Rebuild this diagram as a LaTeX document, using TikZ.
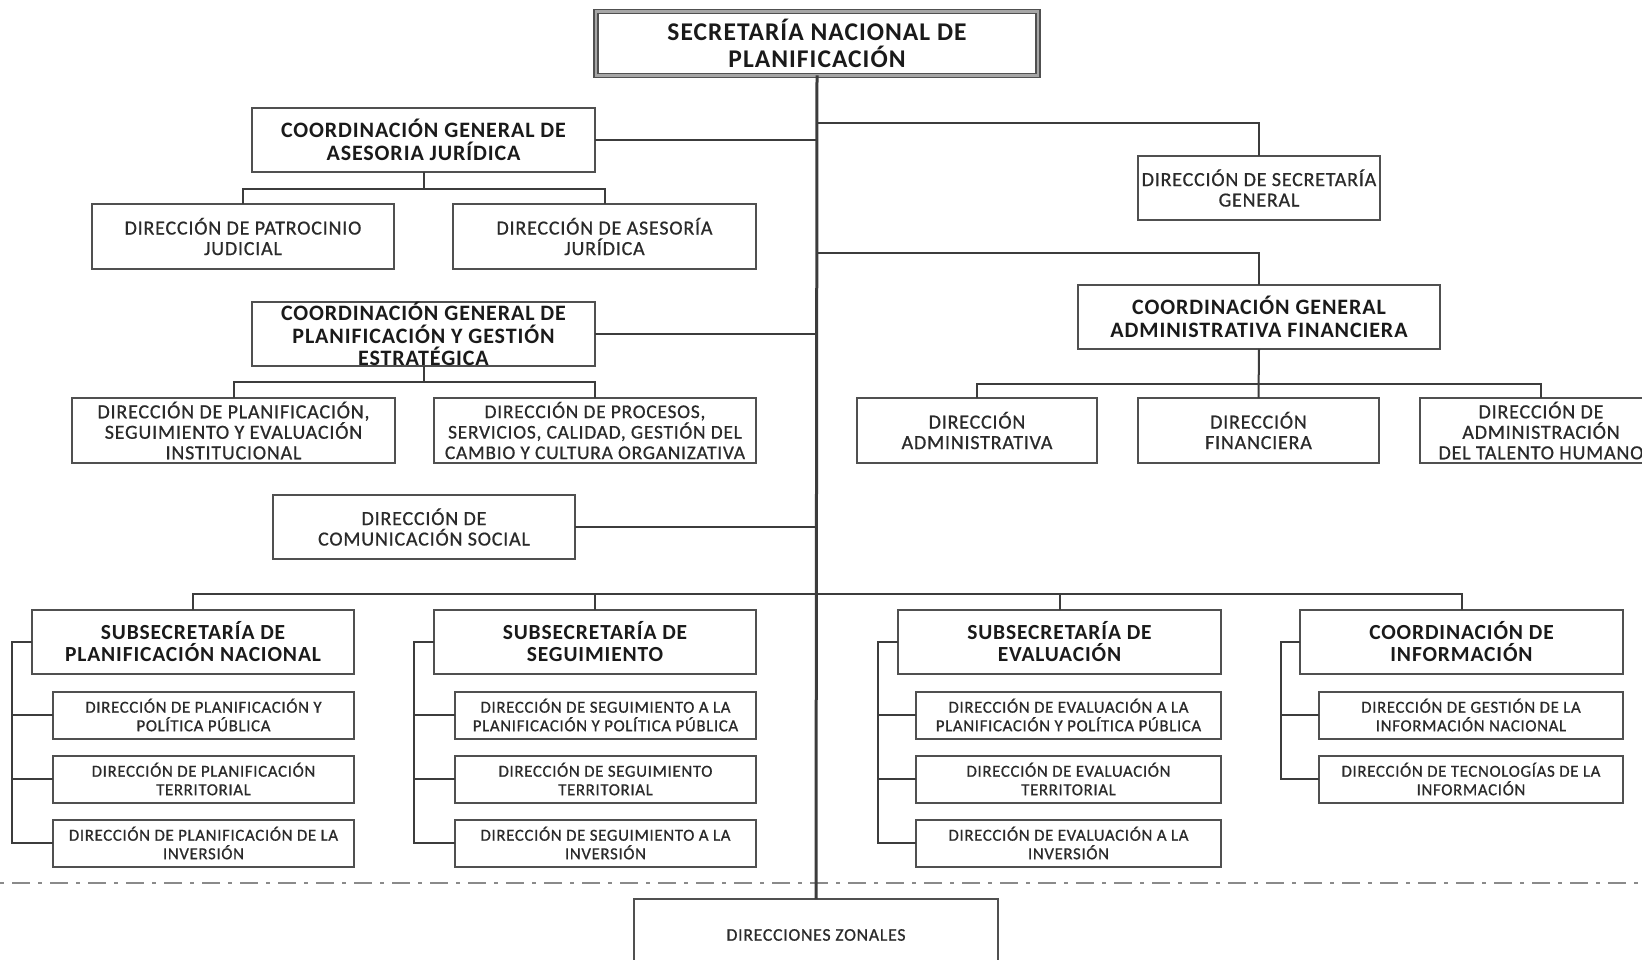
\documentclass[tikz,border=0pt]{standalone}
\usepackage{fontspec}
\setmainfont{Carlito}[LetterSpace=4]
\newfontfamily\regf{Carlito}[LetterSpace=4, FakeBold=0.7]
\definecolor{boxc}{HTML}{505050}
\definecolor{linec}{HTML}{3C3C3C}
\definecolor{txtb}{HTML}{1A1A1A}
\definecolor{txtr}{HTML}{2A2A2A}
\definecolor{dashc}{HTML}{8A8A8A}
\begin{document}
\begin{tikzpicture}[x=1pt,y=-1pt,
  box/.style={draw=boxc, line width=2pt, inner sep=0pt, outer sep=0pt, align=center, fill=white},
  fsnp/.style={font=\fontsize{25.5}{27}\selectfont\bfseries, text=txtb},
  fcg/.style={font=\fontsize{22}{22.5}\selectfont\bfseries, text=txtb},
  fsub/.style={font=\fontsize{21.5}{22}\selectfont\bfseries, text=txtb},
  fdtwo/.style={font=\regf\fontsize{20}{20.5}\selectfont, text=txtr},
  fdfour/.style={font=\regf\fontsize{16.8}{18.5}\selectfont, text=txtr},
  fdz/.style={font=\regf\fontsize{17.8}{18}\selectfont, text=txtr},
  conn/.style={draw=linec, line width=2pt},
  mainln/.style={draw=linec, line width=3pt},
  sepline/.style={draw=dashc, line width=2pt, dash pattern=on 4pt off 8pt on 18pt off 8pt}
]
\coordinate (o1) at (0,0);
\coordinate (o2) at (1642,960);
\useasboundingbox (o1) rectangle (o2);
\clip (o1) rectangle (o2);
\fill[white] (o1) rectangle (o2);

% separator
\coordinate (dl) at (0,883);
\coordinate (dr) at (1642,883);
\draw[sepline] (dl) -- (dr);

% top
\node[box, draw=boxc, line width=1.7pt, double=gray!70, double distance=2.2pt, minimum width=442, minimum height=64, fsnp] (snp) at (817,43.5) {SECRETARÍA NACIONAL DE\\PLANIFICACIÓN};

% left staff
\node[box, minimum width=343, minimum height=64, fcg] (cgaj) at (423.5,140) {COORDINACIÓN GENERAL DE\\ASESORIA JURÍDICA};
\node[box, minimum width=302, minimum height=65, fdtwo] (dpj) at (243,236.5) {DIRECCIÓN DE PATROCINIO\\JUDICIAL};
\node[box, minimum width=303, minimum height=65, fdtwo] (das) at (604.5,236.5) {DIRECCIÓN DE ASESORÍA\\JURÍDICA};

\node[box, minimum width=343, minimum height=64, fcg] (cgpge) at (423.5,334) {COORDINACIÓN GENERAL DE\\PLANIFICACIÓN Y GESTIÓN\\ESTRATÉGICA};
\node[box, minimum width=323, minimum height=65, fdtwo] (dpsei) at (233.5,430.5) {DIRECCIÓN DE PLANIFICACIÓN,\\SEGUIMIENTO Y EVALUACIÓN\\INSTITUCIONAL};
\node[box, minimum width=322, minimum height=65, fdtwo, font=\regf\fontsize{19.4}{20.5}\selectfont] (dpro) at (595,430.5) {DIRECCIÓN DE PROCESOS,\\SERVICIOS, CALIDAD, GESTIÓN DEL\\CAMBIO Y CULTURA ORGANIZATIVA};

\node[box, minimum width=302, minimum height=64, fdtwo] (dcs) at (424,527) {DIRECCIÓN DE\\COMUNICACIÓN SOCIAL};

% right staff
\node[box, minimum width=242, minimum height=64, fdtwo] (dsg) at (1259,188) {DIRECCIÓN DE SECRETARÍA\\GENERAL};
\node[box, minimum width=362, minimum height=64, fcg] (cgaf) at (1259,317) {COORDINACIÓN GENERAL\\ADMINISTRATIVA FINANCIERA};
\node[box, minimum width=240, minimum height=65, fdtwo] (dadm) at (977,430.5) {DIRECCIÓN\\ADMINISTRATIVA};
\node[box, minimum width=241, minimum height=65, fdtwo] (dfin) at (1258.5,430.5) {DIRECCIÓN\\FINANCIERA};
\node[box, minimum width=242, minimum height=65, fdtwo] (dath) at (1541,430.5) {DIRECCIÓN DE\\ADMINISTRACIÓN\\DEL TALENTO HUMANO};

% bottom columns
\node[box, minimum width=322, minimum height=64, fsub] (s1) at (193,642) {SUBSECRETARÍA DE\\PLANIFICACIÓN NACIONAL};
\node[box, minimum width=301, minimum height=47, fdfour] (c11) at (203.5,715) {DIRECCIÓN DE PLANIFICACIÓN Y\\POLÍTICA PÚBLICA};
\node[box, minimum width=301, minimum height=47, fdfour] (c12) at (203.5,779) {DIRECCIÓN DE PLANIFICACIÓN\\TERRITORIAL};
\node[box, minimum width=301, minimum height=47, fdfour] (c13) at (203.5,843) {DIRECCIÓN DE PLANIFICACIÓN DE LA\\INVERSIÓN};

\node[box, minimum width=322, minimum height=64, fsub] (s2) at (595,642) {SUBSECRETARÍA DE\\SEGUIMIENTO};
\node[box, minimum width=301, minimum height=47, fdfour] (c21) at (605.5,715) {DIRECCIÓN DE SEGUIMIENTO A LA\\PLANIFICACIÓN Y POLÍTICA PÚBLICA};
\node[box, minimum width=301, minimum height=47, fdfour] (c22) at (605.5,779) {DIRECCIÓN DE SEGUIMIENTO\\TERRITORIAL};
\node[box, minimum width=301, minimum height=47, fdfour] (c23) at (605.5,843) {DIRECCIÓN DE SEGUIMIENTO A LA\\INVERSIÓN};

\node[box, minimum width=323, minimum height=64, fsub] (s3) at (1059.5,642) {SUBSECRETARÍA DE\\EVALUACIÓN};
\node[box, minimum width=305, minimum height=47, fdfour] (c31) at (1068.5,715) {DIRECCIÓN DE EVALUACIÓN A LA\\PLANIFICACIÓN Y POLÍTICA PÚBLICA};
\node[box, minimum width=305, minimum height=47, fdfour] (c32) at (1068.5,779) {DIRECCIÓN DE EVALUACIÓN\\TERRITORIAL};
\node[box, minimum width=305, minimum height=47, fdfour] (c33) at (1068.5,843) {DIRECCIÓN DE EVALUACIÓN A LA\\INVERSIÓN};

\node[box, minimum width=323, minimum height=64, fsub] (s4) at (1461.5,642) {COORDINACIÓN DE\\INFORMACIÓN};
\node[box, minimum width=304, minimum height=47, fdfour] (c41) at (1471,715) {DIRECCIÓN DE GESTIÓN DE LA\\INFORMACIÓN NACIONAL};
\node[box, minimum width=304, minimum height=47, fdfour] (c42) at (1471,779) {DIRECCIÓN DE TECNOLOGÍAS DE LA\\INFORMACIÓN};

\node[box, minimum width=364, minimum height=72, fdz] (dz) at (816,935) {DIRECCIONES ZONALES};

% junction coordinates
\coordinate (r1) at (817,123);
\coordinate (r2) at (817,253);
\coordinate (bus) at (817,594);
\coordinate (b1) at (423.5,189);
\coordinate (b2) at (423.5,382);
\coordinate (b3) at (1259,384);
\coordinate (k1) at (12,642);
\coordinate (k2) at (414,642);
\coordinate (k3) at (878,642);
\coordinate (k4) at (1281,642);

% main line
\draw[mainln] (snp.south) -- (dz.north);

% left staff connectors
\draw[conn] (cgaj.east) -- (cgaj.east -| snp.south);
\draw[conn] (cgpge.east) -- (cgpge.east -| snp.south);
\draw[conn] (dcs.east) -- (dcs.east -| snp.south);
\draw[conn] (cgaj.south) -- (b1);
\draw[conn] (dpj.north) |- (b1) -| (das.north);
\draw[conn] (cgpge.south) -- (b2);
\draw[conn] (dpsei.north) |- (b2) -| (dpro.north);

% right staff connectors
\draw[conn] (r1) -| (dsg.north);
\draw[conn] (r2) -| (cgaf.north);
\draw[conn] (cgaf.south) -- (dfin.north);
\draw[conn] (dadm.north) |- (b3) -| (dath.north);

% bottom bus
\draw[conn] (s1.north) |- (bus) -| (s4.north);
\draw[conn] (s2.north) -- (s2.north |- bus);
\draw[conn] (s3.north) -- (s3.north |- bus);

% brackets
\draw[conn] (s1.west) -- (k1) |- (c13.west);
\draw[conn] (c11.west) -- (c11.west -| k1);
\draw[conn] (c12.west) -- (c12.west -| k1);
\draw[conn] (s2.west) -- (k2) |- (c23.west);
\draw[conn] (c21.west) -- (c21.west -| k2);
\draw[conn] (c22.west) -- (c22.west -| k2);
\draw[conn] (s3.west) -- (k3) |- (c33.west);
\draw[conn] (c31.west) -- (c31.west -| k3);
\draw[conn] (c32.west) -- (c32.west -| k3);
\draw[conn] (s4.west) -- (k4) |- (c42.west);
\draw[conn] (c41.west) -- (c41.west -| k4);
\end{tikzpicture}
\end{document}
